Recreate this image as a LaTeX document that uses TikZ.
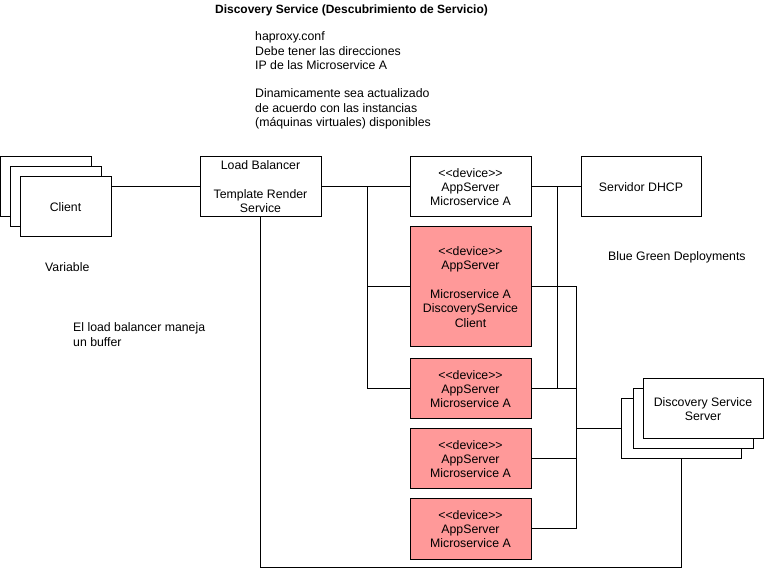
\documentclass[tikz,border=0pt]{standalone}
\usepackage{fontspec}
\setmainfont{Liberation Sans}
\definecolor{redfill}{RGB}{255,153,153}
\begin{document}
\begin{tikzpicture}[x=1pt,y=-1pt,
  every node/.style={font=\fontsize{12.3}{14.3}\selectfont},
  box/.style={draw, line width=1pt, fill=white, minimum width=121pt, minimum height=60pt, inner sep=0pt, align=center},
  redbox/.style={box, fill=redfill},
  cbox/.style={box, minimum width=91pt},
  dbox/.style={box, minimum width=120pt},
  txt/.style={inner sep=0pt, align=left, anchor=west},
  conn/.style={line width=1pt}]
\useasboundingbox (0,0) rectangle (764,569);
% title and notes
\node[inner sep=0pt, font=\fontsize{12}{14.3}\selectfont\bfseries] (title) at (351.5,10) {Discovery Service (Descubrimiento de Servicio)};
\node[txt] (note) at (255,80.5) {haproxy.conf\\Debe tener las direcciones\\IP de las Microservice A\\[14.3pt]Dinamicamente sea actualizado\\de acuerdo con las instancias\\(máquinas virtuales) disponibles};
\node[txt] (var) at (45,267.5) {Variable};
\node[txt] (buf) at (73,334.5) {El load balancer maneja\\un buffer};
\node[txt] (bg) at (608,257.5) {Blue Green Deployments};
% client stack
\node[cbox] (client3) at (45.5,187) {};
\node[cbox] (client2) at (55.5,197) {};
\node[cbox] (client) at (65.5,207) {Client};
% load balancer
\node[box] (lb) at (260.5,187) {Load Balancer\\[14.3pt]Template Render\\Service};
% app servers
\node[box] (app0) at (470.5,187) {{<}{<}device{>}{>}\\AppServer\\Microservice A};
\node[redbox, minimum height=120pt] (r1) at (470.5,287) {{<}{<}device{>}{>}\\AppServer\\[14.3pt]Microservice A\\DiscoveryService\\Client};
\node[redbox] (r2) at (470.5,389) {{<}{<}device{>}{>}\\AppServer\\Microservice A};
\node[redbox] (r3) at (470.5,459) {{<}{<}device{>}{>}\\AppServer\\Microservice A};
\node[redbox] (r4) at (470.5,529) {{<}{<}device{>}{>}\\AppServer\\Microservice A};
% dhcp
\node[dbox] (dhcp) at (641,187) {Servidor DHCP};
% discovery stack
\node[dbox] (ds3) at (681,429) {};
\node[dbox] (ds2) at (693,419) {};
\node[dbox] (ds) at (703,409) {Discovery Service\\Server};
% junction coordinates
\coordinate (j1) at (367,187);
\coordinate (j2) at (557,187);
\coordinate (j3) at (576,287);
\coordinate (jb) at (0,567);
% connectors
\draw[conn] (lb.west -| client.east) -- (lb.west);
\draw[conn] (lb.east) -- (app0.west);
\draw[conn] (j1) |- (r2.west);
\draw[conn] (j1 |- r1.west) -- (r1.west);
\draw[conn] (app0.east) -- (dhcp.west);
\draw[conn] (j2) |- (r2.east);
\draw[conn] (r1.east) -- (j3) |- (r4.east);
\draw[conn] (r2.east) -- (r2.east -| j3);
\draw[conn] (r3.east) -- (r3.east -| j3);
\draw[conn] (ds3.west -| j3) -- (ds3.west);
\draw[conn] (lb.south) -- (lb.south |- jb) -| (ds3.south);
\end{tikzpicture}
\end{document}
